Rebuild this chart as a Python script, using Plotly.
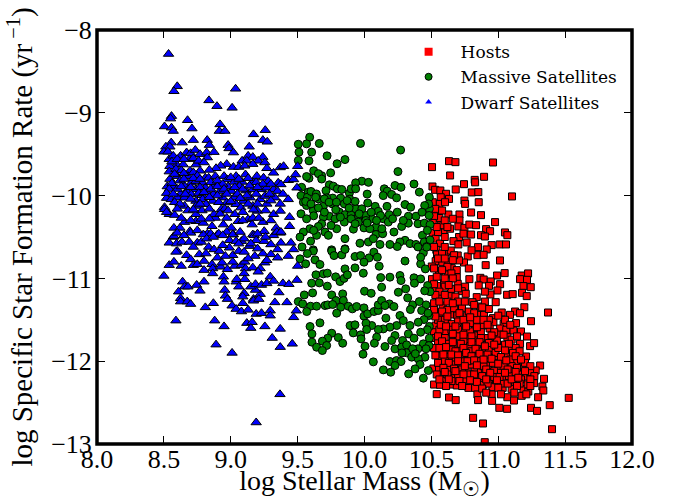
import plotly.graph_objects as go

dwarf_points = [
(8.535,-8.29),(8.60,-8.68),(8.575,-8.74),(9.036,-8.71),(8.837,-8.85),(8.897,-8.92),(9.01,-8.94),(8.557,-9.04),(8.55,-9.07),(8.677,-9.09),
(8.505,-9.165),(8.557,-9.18),(8.57,-9.22),(8.71,-9.19),(8.92,-9.14),(8.914,-9.22),(8.956,-9.22),(9.17,-9.26),(9.258,-9.21),(9.24,-9.33),
(9.273,-9.35),(9.138,-9.41),(8.555,-9.36),(8.637,-9.36),(8.72,-9.33),(8.824,-9.33),(8.84,-9.39),(8.98,-9.39),(8.987,-9.43),(9.02,-9.48),
(8.515,-9.41),(8.545,-9.41),(8.50,-9.47),(8.53,-9.47),(8.625,-9.52),(8.67,-9.48),(8.70,-9.49),(8.735,-9.45),(8.77,-9.50),(8.82,-9.48),
(8.875,-9.475),(8.825,-9.54),(8.54,-9.56),(8.57,-9.52),(8.69,-9.56),(9.085,-9.58),(9.13,-9.52),(9.165,-9.535),(9.24,-9.535),(9.12,-9.58),
(9.205,-9.58),(9.255,-9.60),(8.97,-9.62),(9.02,-9.655),(9.06,-9.655),(8.925,-9.64),(8.89,-9.67),(9.105,-9.64),(9.165,-9.62),(9.27,-9.67),
(9.37,-9.66),(9.395,-9.645),(9.50,-9.645),(8.595,-9.625),(8.645,-9.625),(8.74,-9.625),(8.545,-9.645),(8.54,-9.71),(8.59,-9.68),(8.63,-9.695),
(8.695,-9.70),(8.77,-9.70),(8.81,-9.785),(8.545,-9.80),(8.60,-9.765),(8.68,-9.765),(8.705,-9.845),(8.74,-9.825),(8.79,-9.845),(8.835,-9.785),
(8.885,-9.765),(8.875,-9.885),(8.95,-9.765),(8.975,-9.805),(9.025,-9.835),(9.04,-9.765),(9.085,-9.835),(9.11,-9.745),(9.165,-9.835),(9.195,-9.765),
(9.245,-9.785),(9.28,-9.825),(9.355,-9.845),(9.375,-9.865),(9.43,-9.815),(9.47,-9.805),(9.485,-9.745),(9.32,-9.725),(8.525,-9.89),(8.57,-9.885),
(8.655,-9.885),(8.67,-9.945),(8.74,-9.925),(8.81,-9.905),(8.825,-9.965),(8.92,-9.945),(8.98,-9.89),(9.005,-9.945),(9.065,-9.885),(9.115,-9.94),
(9.165,-9.925),(9.23,-9.925),(9.27,-9.905),(9.32,-9.925),(9.35,-9.945),(9.495,-9.905),(8.625,-9.98),(8.705,-9.985),(8.87,-9.985),(8.785,-9.995),
(8.52,-10.03),(8.505,-10.14),(8.555,-10.045),(8.60,-10.025),(8.655,-10.025),(8.74,-10.065),(8.79,-10.045),(8.865,-10.065),(8.94,-10.025),(9.025,-10.025),
(9.095,-10.065),(9.145,-10.025),(9.22,-10.045),(9.255,-10.005),(9.33,-10.025),(9.39,-9.98),(9.43,-10.045),(8.97,-10.085),(9.04,-10.105),(9.165,-10.125),
(9.27,-10.10),(9.37,-10.10),(8.655,-10.125),(8.74,-10.125),(8.815,-10.105),(8.93,-10.165),(8.955,-10.16),(8.54,-10.225),(8.58,-10.235),(8.74,-10.225),
(8.785,-10.18),(8.885,-10.27),(8.875,-10.225),(9.03,-10.225),(9.075,-10.145),(9.13,-10.285),(9.165,-10.27),(9.20,-10.185),(9.32,-10.225),(9.37,-10.185),
(9.44,-10.26),(8.505,-10.165),(8.575,-10.39),(8.62,-10.39),(8.655,-10.32),(8.695,-10.43),(8.74,-10.31),(8.795,-10.33),(8.86,-10.37),(8.945,-10.35),
(9.005,-10.39),(9.055,-10.31),(9.16,-10.35),(9.24,-10.32),(9.34,-10.39),(9.37,-10.45),(9.44,-10.37),(8.825,-10.46),(8.90,-10.47),(9.02,-10.47),
(9.165,-10.47),(8.57,-10.50),(9.25,-10.43),(8.575,-10.49),(8.70,-10.45),(8.795,-10.47),(8.85,-10.46),(8.91,-10.46),(8.97,-10.44),(9.015,-10.47),
(9.07,-10.44),(9.175,-10.48),(9.20,-10.46),(9.32,-10.48),(9.345,-10.44),(9.375,-10.44),(8.54,-10.57),(8.595,-10.58),(8.635,-10.56),(8.69,-10.56),
(8.75,-10.57),(8.78,-10.56),(8.835,-10.62),(8.82,-10.52),(8.99,-10.63),(8.99,-10.54),(9.04,-10.55),(9.08,-10.55),(9.14,-10.61),(9.19,-10.54),
(9.15,-10.58),(9.25,-10.55),(9.30,-10.59),(9.375,-10.57),(9.45,-10.57),(8.60,-10.67),(8.59,-10.68),(8.67,-10.72),(8.70,-10.77),(8.765,-10.71),
(8.815,-10.70),(8.90,-10.75),(8.875,-10.65),(8.915,-10.67),(9.015,-10.72),(9.06,-10.67),(9.10,-10.68),(9.18,-10.73),(9.24,-10.70),(9.30,-10.71),
(9.35,-10.65),(9.47,-10.65),(8.54,-10.84),(8.575,-10.80),(8.63,-10.85),(8.72,-10.84),(8.75,-10.83),(8.80,-10.79),(8.80,-10.90),(8.86,-10.83),
(8.865,-10.88),(8.865,-10.94),(8.925,-10.86),(8.935,-10.81),(8.975,-10.89),(9.03,-10.85),(9.015,-10.80),(9.08,-10.84),(9.105,-10.80),(9.11,-10.88),
(9.10,-10.94),(9.165,-10.87),(9.22,-10.88),(9.205,-10.92),(9.255,-10.81),(9.27,-10.78),(9.35,-10.75),(9.43,-10.73),(9.50,-10.85),(8.50,-10.97),
(8.64,-11.04),(8.655,-11.10),(8.68,-11.10),(8.745,-11.08),(8.80,-11.04),(8.61,-11.16),(8.77,-11.15),(8.625,-11.24),(8.625,-11.28),(8.675,-11.28),
(8.70,-11.31),(8.81,-11.35),(8.87,-11.30),(8.945,-10.98),(8.95,-11.04),(8.955,-11.14),(8.96,-11.21),(8.975,-11.25),(9.04,-11.04),(9.045,-11.01),
(9.06,-11.10),(9.105,-11.01),(9.10,-11.18),(9.09,-11.22),(9.17,-11.25),(9.22,-11.19),(9.185,-11.14),(9.15,-11.10),(9.185,-11.07),(9.23,-11.08),
(9.27,-11.06),(9.295,-10.98),(9.32,-11.03),(9.36,-11.17),(9.39,-11.06),(9.435,-11.07),(9.495,-11.02),(9.01,-11.33),(9.09,-11.30),(9.17,-11.27),
(9.21,-11.25),(9.33,-11.29),(9.42,-11.29),(9.04,-11.37),(9.08,-11.40),(9.13,-11.38),(9.19,-11.43),(9.23,-11.42),(9.295,-11.39),(9.295,-11.45),
(9.47,-11.47),(9.49,-11.39),(8.59,-11.51),(8.88,-11.51),(8.95,-11.58),(9.12,-11.54),(9.16,-11.53),(9.15,-11.60),(9.255,-11.58),(9.37,-11.61),
(9.31,-11.72),(9.37,-11.83),(9.46,-11.79),(8.89,-11.80),(9.01,-11.90),(9.368,-12.40),(9.19,-12.74),
(8.56,-9.59),(8.60,-9.56),(8.65,-9.56),(8.72,-9.55),(8.76,-9.58),(8.80,-9.60),(8.58,-9.74),(8.65,-9.73),(8.72,-9.72),(8.75,-9.76),
(8.84,-9.69),(8.56,-9.85),(8.62,-9.82),(8.65,-9.80),(8.72,-9.79),(8.77,-9.80),(8.85,-9.84),(8.90,-9.82),(8.94,-9.86),(9.00,-9.78),
(9.06,-9.80),(9.13,-9.79),(9.19,-9.84),(9.24,-9.86),(8.54,-9.92),(8.60,-9.92),(8.63,-9.89),(8.70,-9.90),(8.77,-9.90),(8.85,-9.92),
(8.90,-9.89),(8.95,-9.92),(9.03,-9.90),(9.09,-9.92),(9.14,-9.88),(9.20,-9.90),(9.30,-9.86),(8.52,-9.97),(8.57,-9.98),(8.66,-9.98),
(8.76,-9.97),(8.80,-9.96),(8.90,-10.00),(8.97,-9.98),(9.05,-9.98),(9.12,-10.00),(9.19,-9.98),(9.29,-9.98),(8.58,-10.08),(8.62,-10.10),
(8.70,-10.04),(8.77,-10.10),(8.84,-10.02),(8.91,-10.08),(9.00,-10.07),(9.07,-10.03),(9.13,-10.10),(9.20,-10.10),(9.30,-10.06),(8.52,-10.20),
(8.60,-10.16),(8.68,-10.18),(8.72,-10.17),(8.84,-10.16),(8.92,-10.22),(8.98,-10.18),(9.09,-10.20),(9.17,-10.17),(9.26,-10.18),(8.63,-10.27),
(8.70,-10.30),(8.78,-10.28),(8.84,-10.28),(8.97,-10.27),(9.09,-10.30),(9.21,-10.27),(9.30,-10.30),(8.60,-10.45),(8.65,-10.48),(8.75,-10.42),
(8.87,-10.50),(8.94,-10.48),(9.10,-10.52),(9.26,-10.50),(8.72,-10.62),(8.94,-10.60),(9.06,-10.58),(9.20,-10.64),(8.96,-10.73),(9.13,-10.76),
]

massive_points = [
(9.59,-9.295),(9.505,-9.38),(9.567,-9.375),(9.662,-9.37),(9.97,-9.37),(10.27,-9.45),(9.51,-9.475),(9.605,-9.475),(9.72,-9.52),(9.854,-9.565),
(9.585,-9.58),(9.505,-9.575),(9.795,-9.615),(9.62,-9.70),(10.25,-9.71),(9.747,-9.725),(9.68,-9.76),(9.655,-9.735),(9.585,-9.79),(9.567,-9.77),
(9.68,-9.80),(9.98,-9.826),(10.03,-9.84),(9.934,-9.846),(10.37,-9.86),(10.228,-9.878),(10.273,-9.90),(9.737,-9.87),(9.767,-9.886),(9.797,-9.918),
(9.83,-9.926),(9.712,-9.94),(9.887,-9.97),(9.90,-9.918),(9.934,-9.918),(10.148,-9.918),(10.17,-9.946),(10.203,-9.986),(10.14,-10.0),(10.24,-10.027),
(10.41,-9.958),(10.485,-10.02),(10.02,-9.982),(10.303,-10.108),(10.345,-10.14),(10.168,-10.13),(10.024,-10.09),(9.89,-10.043),(9.822,-10.03),(9.762,-10.03),
(9.717,-10.027),(9.655,-10.04),(9.58,-9.958),(9.525,-10.0),(9.573,-10.02),(9.543,-10.08),(9.692,-10.13),(9.76,-10.10),(9.849,-10.10),(9.812,-10.20),
(9.737,-10.25),(9.617,-10.18),(9.655,-10.148),(9.567,-10.12),(9.525,-10.22),(9.62,-10.244),(9.567,-10.28),(9.692,-10.26),(9.68,-10.34),(9.655,-10.373),
(9.592,-10.40),(9.543,-10.44),(9.518,-10.50),(9.597,-10.55),(9.642,-10.48),(9.705,-10.44),(9.73,-10.48),(9.792,-10.40),(9.854,-10.52),(9.854,-10.23),
(9.90,-10.23),(9.936,-10.16),(9.98,-10.16),(9.954,-10.25),(9.917,-10.405),(9.849,-10.32),(9.954,-10.32),(9.996,-10.39),(10.054,-10.28),(10.01,-10.24),
(10.08,-10.13),(10.103,-10.19),(10.14,-10.28),(10.178,-10.32),(10.185,-10.23),(10.245,-10.20),(10.278,-10.373),(10.328,-10.249),(10.328,-10.333),(10.385,-10.249),
(10.40,-10.34),(10.447,-10.333),(10.49,-10.35),(10.485,-10.16),(10.483,-10.24),(10.433,-10.48),(10.086,-10.38),(10.04,-10.40),(10.086,-10.47),(10.136,-10.46),
(10.029,-10.56),(9.966,-10.575),(10.116,-10.59),(10.303,-10.54),(10.265,-10.56),(10.19,-10.59),(10.34,-10.58),(10.385,-10.59),(10.245,-10.615),(10.447,-10.56),
(10.49,-10.535),(10.465,-10.615),(10.066,-10.52),(9.754,-10.655),(9.854,-10.643),(9.617,-10.655),(9.533,-10.62),(9.617,-10.67),(9.573,-10.70),(9.518,-10.764),
(9.56,-10.824),(9.63,-10.776),(9.667,-10.832),(9.755,-10.67),(9.772,-10.724),(9.83,-10.716),(9.854,-10.65),(9.929,-10.736),(9.971,-10.724),(10.034,-10.752),
(9.996,-10.804),(10.07,-10.683),(10.096,-10.744),(10.11,-10.853),(9.929,-10.873),(9.854,-10.885),(9.991,-10.937),(10.303,-10.79),(10.42,-10.824),(10.455,-10.885),
(10.44,-10.69),(10.465,-10.623),(10.42,-10.744),(9.637,-10.957),(9.692,-10.945),(9.722,-10.937),(9.784,-10.981),(9.817,-11.038),(9.847,-11.0),(9.872,-10.957),
(9.605,-11.058),(9.662,-11.054),(9.722,-11.094),(10.121,-10.99),(10.19,-10.985),(10.265,-10.965),(10.273,-11.026),(10.37,-10.993),(10.42,-11.006),(10.373,-11.058),
(10.472,-11.086),(10.308,-11.126),(10.253,-11.167),(10.128,-11.106),(10.0,-11.155),(10.05,-11.18),(9.612,-11.175),(9.55,-11.2),(9.755,-11.2),(9.837,-11.187),
(9.787,-11.267),(9.842,-11.267),(9.505,-11.28),(9.538,-11.308),(9.597,-11.336),(9.642,-11.336),(9.568,-11.40),(9.705,-11.328),(9.725,-11.32),(9.762,-11.315),
(9.822,-11.348),(9.879,-11.336),(9.792,-11.42),(9.909,-11.368),(9.941,-11.34),(9.996,-11.356),(9.996,-11.456),(10.024,-11.428),(10.071,-11.40),(10.103,-11.388),
(10.103,-11.32),(10.128,-11.267),(10.186,-11.308),(10.22,-11.34),(10.153,-11.328),(10.323,-11.235),(10.36,-11.32),(10.41,-11.28),(10.46,-11.32),(10.343,-11.376),
(10.427,-11.388),(10.482,-11.448),(10.445,-11.497),(10.402,-11.529),(10.265,-11.448),(10.29,-11.509),(10.16,-11.48),(10.34,-11.569),(10.241,-11.569),(10.19,-11.589),
(10.14,-11.61),(10.103,-11.617),(10.054,-11.569),(10.011,-11.541),(9.892,-11.569),(9.929,-11.561),(10.016,-11.617),(9.916,-11.658),(9.971,-11.682),(9.667,-11.537),
(9.593,-11.581),(9.607,-11.67),(9.755,-11.662),(9.725,-11.722),(9.685,-11.758),(9.804,-11.714),(9.837,-11.783),(9.607,-11.77),(9.642,-11.831),(9.717,-11.81),
(9.685,-11.871),(9.974,-11.73),(10.091,-11.71),(10.074,-11.783),(10.004,-11.819),(10.153,-11.823),(9.989,-11.915),(10.228,-11.69),(10.203,-11.75),(10.285,-11.75),
(10.328,-11.67),(10.37,-11.722),(10.228,-11.851),(10.278,-11.83),(10.315,-11.803),(10.315,-11.899),(10.353,-11.951),(10.452,-11.951),(10.44,-11.79),(10.485,-11.722),
(10.482,-11.811),(10.402,-11.972),(10.066,-12.008),(10.19,-12.004),(10.24,-11.992),(10.273,-12.004),(10.228,-12.052),(10.141,-12.105),(10.196,-12.133),(10.415,-12.04),
(10.378,-12.093),(10.33,-12.153),(10.477,-12.113),(10.44,-12.205),(10.48,-10.10),(10.40,-10.62),(10.49,-11.16),(10.485,-11.58),(10.47,-11.62),(10.46,-11.85),
(9.53,-9.90),(9.60,-9.95),(9.64,-9.98),(9.70,-10.04),(9.56,-10.07),(9.60,-10.10),(9.635,-10.02),(9.735,-10.08),(9.79,-10.08),(9.87,-10.06),
(9.93,-10.07),(9.785,-10.17),(9.885,-10.15),(9.96,-10.22),(10.05,-10.20),(10.12,-10.24),(9.70,-10.20),(9.78,-10.28),(9.82,-10.26),(9.90,-10.28),
(10.01,-10.30),(10.09,-10.30),(10.21,-10.28),(10.29,-10.30),(9.93,-10.34),(9.75,-10.36),(10.02,-10.33),(10.13,-10.40),(10.22,-10.44),(9.62,-10.42),
(10.45,-10.12),(10.43,-10.20),(10.47,-10.42),(10.45,-11.15),(10.475,-11.42),(10.42,-11.65),(10.40,-11.85),(10.36,-11.85),(10.28,-11.90),(10.38,-11.91),
]

host_points = [
(10.505,-9.656),(10.632,-9.584),(10.68,-9.596),(10.961,-9.60),(10.64,-9.757),(10.894,-9.773),(10.824,-9.81),(10.827,-9.84),(10.744,-9.862),(10.682,-9.926),
(10.508,-9.89),(10.528,-9.93),(10.567,-9.938),(10.61,-9.978),(10.57,-10.02),(10.632,-10.04),(10.802,-9.962),(10.851,-9.958),(11.103,-10.01),(10.747,-10.06),
(10.752,-10.10),(10.854,-10.08),(10.56,-10.10),(10.602,-10.08),(10.51,-10.08),(10.545,-10.2),(10.627,-10.228),(10.71,-10.228),(10.797,-10.204),(10.871,-10.236),
(10.71,-10.30),(10.976,-10.32),(10.57,-10.36),(10.64,-10.40),(10.702,-10.373),(10.747,-10.39),(10.784,-10.35),(10.834,-10.357),(10.909,-10.405),(10.939,-10.43),
(10.51,-10.45),(10.59,-10.445),(10.797,-10.47),(10.871,-10.478),(10.9,-10.494),(11.05,-10.445),(11.068,-10.478),(10.707,-10.50),(10.665,-10.55),(10.764,-10.566),
(10.702,-10.59),(10.532,-10.52),(10.565,-10.58),(10.951,-10.598),(11.011,-10.59),(11.058,-10.59),(10.849,-10.622),(10.914,-10.65),(10.537,-10.655),(10.61,-10.683),
(10.645,-10.663),(10.844,-10.719),(10.891,-10.715),(10.542,-10.711),(10.697,-10.723),(10.772,-10.735),(11.013,-10.783),(10.744,-10.808),(10.532,-10.792),(10.582,-10.804),
(10.627,-10.804),(10.707,-10.783),(10.906,-10.84),(10.652,-10.876),(10.503,-10.856),(10.557,-10.912),(10.622,-10.953),(10.69,-10.985),(10.784,-11.009),(10.866,-10.993),
(10.891,-11.013),(10.991,-10.965),(11.048,-10.936),(11.175,-10.965),(11.223,-10.94),(11.163,-11.009),(11.215,-11.017),(10.944,-11.037),(11.014,-11.07),(11.188,-11.093),
(11.243,-11.106),(10.505,-11.009),(10.547,-11.093),(10.595,-11.057),(10.647,-11.126),(10.752,-11.10),(10.854,-11.085),(10.931,-11.09),(10.697,-11.065),(10.727,-11.154),
(10.994,-11.146),(10.941,-11.194),(11.066,-11.198),(11.108,-11.19),(11.178,-11.174),(11.213,-11.214),(10.515,-11.146),(10.557,-11.234),(10.647,-11.214),(10.757,-11.186),
(10.839,-11.226),(10.585,-11.327),(10.729,-11.356),(10.807,-11.287),(10.981,-11.287),(10.864,-11.339),(11.195,-11.348),(11.126,-11.40),(11.026,-11.412),(11.372,-11.412),
(10.64,-11.436),(10.694,-11.448),(10.764,-11.456),(10.852,-11.44),(10.894,-11.44),(10.961,-11.48),(10.964,-11.529),(11.088,-11.44),(11.163,-11.42),(11.245,-11.517),
(11.133,-11.54),(11.04,-11.549),(10.532,-11.569),(10.65,-11.549),(10.886,-11.569),(10.744,-11.605),(10.827,-11.597),(10.936,-11.605),(11.014,-11.605),(11.113,-11.63),
(11.17,-11.641),(10.602,-11.645),(10.834,-11.69),(11.009,-11.678),(11.068,-11.71),(11.215,-11.702),(10.662,-11.73),(10.769,-11.734),(10.956,-11.77),(10.889,-11.79),
(10.577,-11.802),(11.018,-11.806),(11.163,-11.79),(11.238,-11.818),(11.268,-11.782),(11.083,-11.855),(11.208,-11.943),(10.849,-11.871),(10.742,-11.899),(10.61,-11.891),
(10.54,-11.891),(10.677,-11.911),(10.784,-11.943),(10.901,-11.891),(10.951,-11.871),(11.063,-11.931),(11.0,-11.96),(10.834,-11.943),(11.133,-12.0),(10.727,-12.012),
(10.665,-11.992),(10.552,-11.992),(10.607,-12.044),(10.707,-12.064),(10.926,-12.052),(11.0,-12.076),(11.068,-12.064),(11.18,-12.072),(11.313,-12.052),(11.28,-12.112),
(10.515,-12.088),(10.557,-12.088),(10.824,-12.104),(10.764,-12.12),(10.871,-12.132),(10.652,-12.12),(11.208,-12.185),(11.238,-12.132),(11.342,-12.213),(10.829,-12.193),
(10.931,-12.217),(10.672,-12.205),(11.051,-12.205),(11.126,-12.173),(10.577,-12.173),(10.597,-12.233),(10.727,-12.253),(10.984,-12.265),(10.889,-12.282),(11.126,-12.282),
(11.268,-12.265),(11.33,-12.306),(10.52,-12.282),(10.565,-12.285),(10.657,-12.282),(10.777,-12.322),(10.827,-12.322),(10.69,-12.293),(10.956,-12.314),(11.033,-12.322),
(11.10,-12.334),(11.188,-12.334),(11.225,-12.366),(11.337,-12.354),(10.951,-12.402),(10.844,-12.402),(11.068,-12.435),(11.175,-12.418),(11.298,-12.435),(10.54,-12.398),
(10.632,-12.438),(10.682,-12.47),(10.849,-12.47),(10.954,-12.479),(11.118,-12.475),(11.527,-12.443),(11.385,-12.531),(11.008,-12.563),(11.066,-12.575),(11.245,-12.563),
(11.29,-12.6),(10.812,-12.684),(10.886,-12.752),(11.402,-12.821),(10.899,-12.978),
(10.56,-11.42),(10.62,-11.38),(10.67,-11.36),(10.78,-11.40),(10.93,-11.37),(11.05,-11.50),(10.55,-11.50),(10.60,-11.50),(10.70,-11.52),(10.79,-11.54),
(10.84,-11.50),(10.93,-11.50),(10.52,-11.65),(10.56,-11.62),(10.65,-11.62),(10.70,-11.62),(10.79,-11.64),(10.87,-11.65),(10.97,-11.65),(11.06,-11.62),
(10.53,-11.72),(10.60,-11.72),(10.70,-11.70),(10.74,-11.76),(10.82,-11.75),(10.92,-11.72),(10.99,-11.75),(11.10,-11.74),(10.55,-11.78),(10.63,-11.79),
(10.68,-11.82),(10.79,-11.82),(10.84,-11.80),(10.93,-11.84),(11.05,-11.80),(11.13,-11.84),(10.52,-11.84),(10.58,-11.86),(10.65,-11.86),(10.71,-11.87),
(10.80,-11.88),(10.88,-11.93),(10.98,-11.90),(11.11,-11.90),(10.57,-11.94),(10.63,-11.95),(10.72,-11.95),(10.75,-12.00),(10.86,-12.00),(10.93,-11.96),
(11.03,-12.00),(11.09,-11.98),(10.60,-12.00),(10.68,-12.04),(10.80,-12.04),(10.89,-12.06),(10.96,-12.02),(11.04,-12.06),(11.10,-12.06),(11.20,-12.02),
(10.63,-12.09),(10.73,-12.10),(10.79,-12.16),(10.90,-12.14),(10.97,-12.12),(11.02,-12.14),(11.10,-12.12),(11.16,-12.13),(10.62,-12.16),(10.70,-12.16),
(10.86,-12.20),(10.97,-12.19),(11.08,-12.18),(11.17,-12.22),(11.27,-12.18),(10.65,-12.24),(10.76,-12.24),(10.92,-12.27),(11.02,-12.27),(11.07,-12.27),
(11.16,-12.27),(11.22,-12.28),(10.60,-11.10),(10.56,-11.16),(10.62,-10.86),(10.58,-10.70),(10.67,-10.72),(10.60,-10.50),(10.55,-10.44),(10.56,-10.27),
(10.60,-10.30),(10.66,-10.28),(10.74,-10.46),(10.80,-10.66),(10.68,-11.22),(10.78,-10.88),(10.69,-10.90),(10.70,-11.28),(10.90,-11.16),(10.62,-11.28),
(10.53,-10.16),(10.52,-10.25),(10.58,-10.18),(10.51,-10.33),(10.54,-10.38),(10.62,-10.38),(10.52,-10.62),(10.60,-10.62),(10.55,-10.76),(10.60,-10.76),
(10.66,-10.78),(10.52,-10.88),(10.58,-10.90),(10.65,-10.94),(10.54,-10.98),(10.60,-11.00),(10.66,-11.00),(10.52,-11.07),(10.63,-11.08),(10.70,-11.12),
(10.53,-11.20),(10.60,-11.20),(10.52,-11.30),(10.56,-11.28),(10.66,-11.30),(10.75,-11.28),(10.82,-11.32),(10.90,-11.28),(10.52,-11.38),(10.58,-11.40),
(10.71,-11.42),(10.82,-11.42),(10.88,-11.35),(10.53,-11.46),(10.62,-11.46),(10.74,-11.50),(10.79,-11.47),(10.89,-11.50),(11.00,-11.45),(10.57,-11.56),
(10.68,-11.58),(10.76,-11.58),(10.84,-11.59),(10.92,-11.56),(11.09,-11.56),(10.61,-11.58),(10.55,-11.70),(10.66,-11.67),(10.74,-11.68),(10.80,-11.70),
(10.87,-11.72),(10.95,-11.69),(11.04,-11.68),(11.14,-11.70),(10.58,-11.76),(10.66,-11.77),(10.72,-11.79),(10.80,-11.77),(10.86,-11.77),(10.93,-11.78),
(11.00,-11.84),(11.08,-11.79),(10.56,-11.84),(10.61,-11.83),(10.68,-11.88),(10.74,-11.84),(10.76,-11.90),(10.83,-11.85),(10.90,-11.82),(10.97,-11.80),
(11.05,-11.87),(11.16,-11.88),(10.53,-11.93),(10.59,-11.92),(10.65,-11.92),(10.70,-11.93),(10.80,-11.94),(10.86,-11.91),(10.92,-11.92),(11.02,-11.95),
(11.13,-11.94),(10.55,-12.02),(10.63,-12.02),(10.70,-12.00),(10.77,-12.00),(10.82,-11.99),(10.89,-11.98),(10.95,-11.97),(11.06,-11.99),(11.17,-11.98),
(10.59,-12.08),(10.67,-12.09),(10.75,-12.06),(10.84,-12.05),(10.91,-12.10),(11.00,-12.03),(11.07,-12.10),(11.14,-12.08),(11.24,-12.06),(10.54,-12.16),
(10.60,-12.13),(10.68,-12.12),(10.74,-12.16),(10.82,-12.16),(10.88,-12.18),(10.94,-12.14),(11.01,-12.19),(11.05,-12.14),(11.13,-12.13),(11.20,-12.12),
(10.56,-12.22),(10.63,-12.22),(10.71,-12.24),(10.79,-12.23),(10.84,-12.25),(10.91,-12.22),(10.99,-12.23),(11.10,-12.22),(11.15,-12.20),(11.24,-12.22),
(10.61,-12.30),(10.73,-12.30),(10.88,-12.33),(11.00,-12.32),(11.14,-12.30),(11.24,-12.30),(10.91,-12.38),(11.02,-12.40),(11.12,-12.38),(11.21,-12.40),
]

dwarf_x, dwarf_y = zip(*dwarf_points)
massive_x, massive_y = zip(*massive_points)
host_x, host_y = zip(*host_points)

HOST, MASSIVE, DWARF = "#ff0000", "#008000", "#0000ff"
black_edge = dict(color="black", width=1)
fig = go.Figure()
fig.add_scatter(x=host_x, y=host_y, mode="markers", showlegend=False,
                marker=dict(symbol="square", size=7, color=HOST, line=black_edge))
fig.add_scatter(x=massive_x, y=massive_y, mode="markers", showlegend=False,
                marker=dict(symbol="circle", size=8, color=MASSIVE, line=black_edge))
fig.add_scatter(x=dwarf_x, y=dwarf_y, mode="markers", showlegend=False,
                marker=dict(symbol="triangle-up", size=9, color=DWARF, line=black_edge))
# legend keys are smaller than the plotted marks
fig.add_scatter(x=[None], y=[None], mode="markers", name="Hosts",
                marker=dict(symbol="square", size=8, color=HOST, line=dict(width=0)))
fig.add_scatter(x=[None], y=[None], mode="markers", name="Massive Satellites",
                marker=dict(symbol="circle", size=7, color=MASSIVE, line=black_edge))
fig.add_scatter(x=[None], y=[None], mode="markers", name="Dwarf Satellites",
                marker=dict(symbol="triangle-up", size=6, color=DWARF, line=dict(width=0)))

axis_common = dict(showline=True, linecolor="black", linewidth=1, mirror="ticks", ticks="inside",
                   ticklen=8, tickwidth=1, tickcolor="black", showgrid=False, zeroline=False,
                   tickfont=dict(family="Liberation Serif", size=26, color="black"))
fig.update_xaxes(range=[8, 12], tickvals=[8, 8.5, 9, 9.5, 10, 10.5, 11, 11.5, 12],
                 ticktext=["8.0", "8.5", "9.0", "9.5", "10.0", "10.5", "11.0", "11.5", "12.0"],
                 ticklabelstandoff=-8,
                 title=dict(text="log Stellar Mass (M<sub>☉</sub>)", standoff=7,
                            font=dict(family="Liberation Serif", size=28, color="black")),
                 **axis_common)
fig.update_yaxes(range=[-13, -8], tickvals=[-13, -12, -11, -10, -9, -8], ticklabelstandoff=-1,
                 title=dict(text="log Specific Star Formation Rate (yr<sup> −1</sup>)", standoff=9,
                            font=dict(family="Liberation Serif", size=29, color="black")),
                 **axis_common)
fig.add_shape(type="rect", xref="paper", yref="paper", x0=0, x1=1, y0=0, y1=1,
              line=dict(color="black", width=3.5), layer="above")
fig.update_layout(width=683, height=500, margin=dict(l=97, r=51, t=30, b=56, autoexpand=False),
                  plot_bgcolor="white", paper_bgcolor="white",
                  legend=dict(x=0.56, y=0.99, xanchor="left", yanchor="top", bgcolor="rgba(0,0,0,0)",
                              borderwidth=0, itemwidth=54,
                              font=dict(family="DejaVu Serif", size=17, color="black")))
fig.write_html("out.html", config={"displayModeBar": False},
               post_script="document.body.style.margin='0';")
